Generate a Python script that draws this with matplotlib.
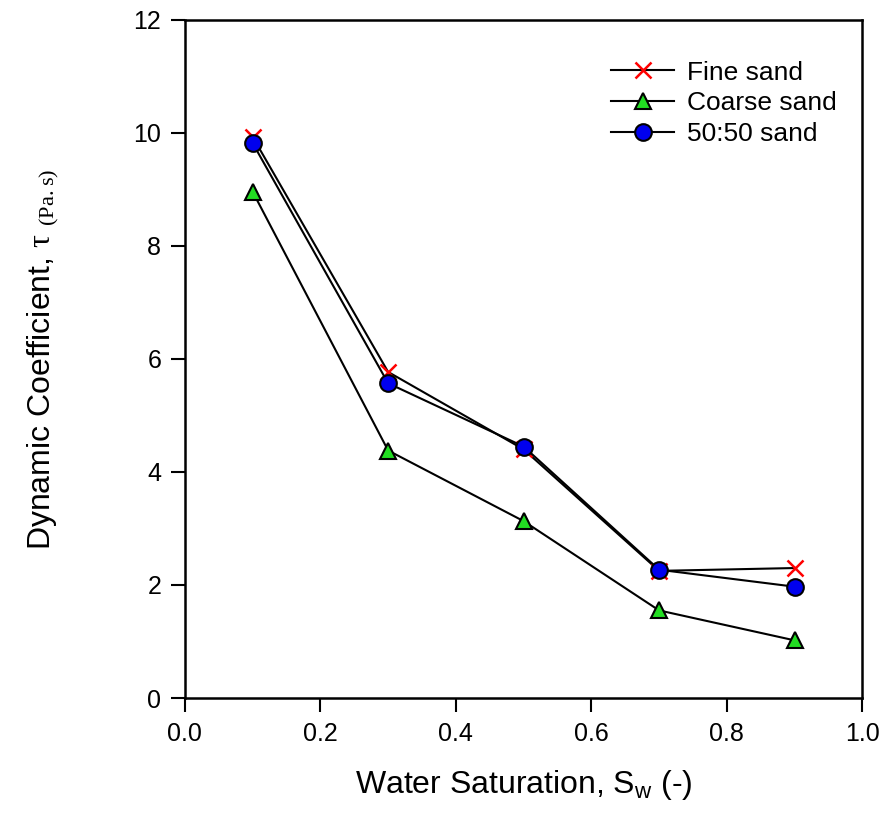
import numpy as np
import matplotlib.pyplot as plt

plt.rcParams['font.family'] = ['Liberation Sans', 'DejaVu Sans']
plt.rcParams['mathtext.fontset'] = 'custom'
plt.rcParams['mathtext.rm'] = 'Liberation Serif'
plt.rcParams['mathtext.sf'] = 'Liberation Sans'

sw = [0.1, 0.3, 0.5, 0.7, 0.9]
fine = [9.93, 5.77, 4.40, 2.25, 2.30]
coarse = [8.96, 4.38, 3.13, 1.55, 1.02]
mixed = [9.82, 5.57, 4.45, 2.27, 1.97]

fig = plt.figure(figsize=(8.89, 8.16), dpi=100)
ax = fig.add_axes([0.208, 0.1446, 0.762, 0.831])

ax.plot(sw, fine, color='black', lw=1.5, marker='x', markersize=11, mec='red', mew=1.8, label='Fine sand', zorder=3)
ax.plot(sw, coarse, color='black', lw=1.5, marker='^', markersize=11, mfc='#22dd22', mec='black', mew=1.5, label='Coarse sand', zorder=3)
ax.plot(sw, mixed, color='black', lw=1.5, marker='o', markersize=12, mfc='#0000ee', mec='black', mew=1.5, label='50:50 sand', zorder=4)

ax.set_xlim(0, 1.0)
ax.set_ylim(0, 12)
ax.set_xticks(np.arange(0, 1.01, 0.2))
ax.set_xticklabels(['0.0', '0.2', '0.4', '0.6', '0.8', '1.0'])
ax.set_yticks(range(0, 13, 2))
ax.tick_params(direction='out', length=10, width=1.5, labelsize=18, pad=7)
for s in ax.spines.values():
    s.set_linewidth(1.8)

ax.set_xlabel(r'Water Saturation, S$_\mathsf{w}$ (-)', fontsize=23, labelpad=16)
ax.set_ylabel('Dynamic Coefficient, ' + r'$\mathrm{\tau}$ $\mathrm{_{(Pa.s)}}$', fontsize=23, labelpad=52)

leg = ax.legend(loc='upper right', bbox_to_anchor=(0.998, 0.975), frameon=False, fontsize=19,
                handlelength=2.4, labelspacing=0.25, handletextpad=0.5)

fig.savefig('out.png', dpi=100)
